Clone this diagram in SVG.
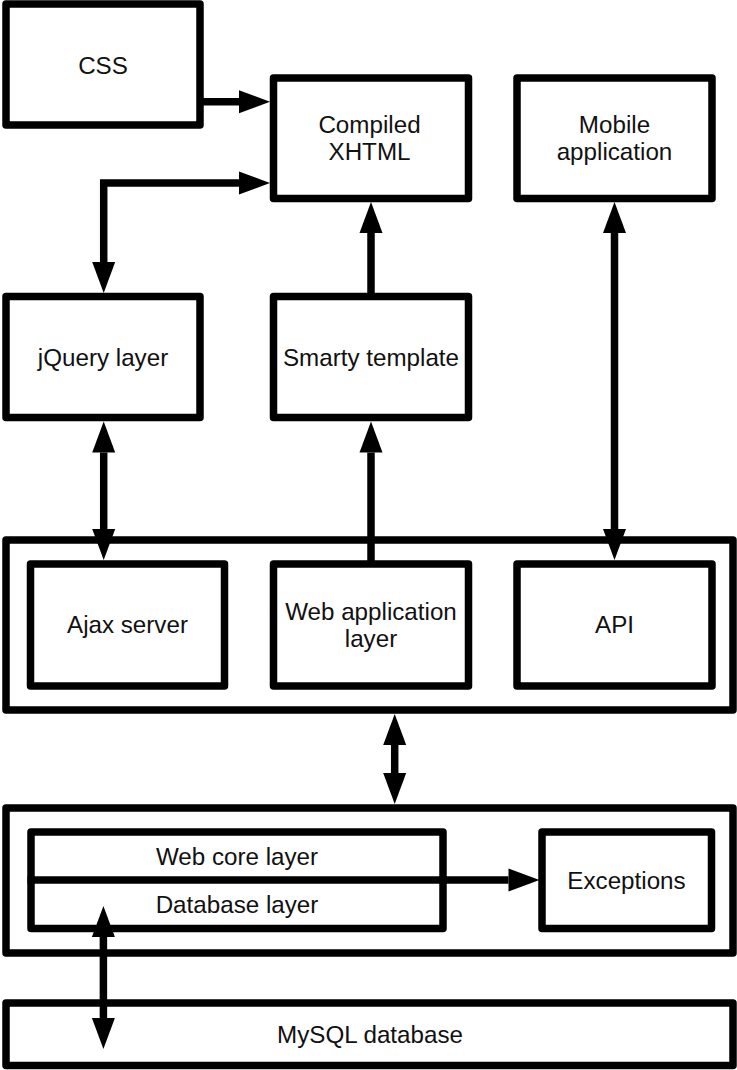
<svg xmlns="http://www.w3.org/2000/svg" width="737" height="1070" viewBox="0 0 737 1070">
<style>
.box{fill:#fff;stroke:#000;stroke-width:7.5;stroke-linejoin:round}
.frame{fill:none;stroke:#000;stroke-width:7.5;stroke-linejoin:round}
.ln{fill:none;stroke:#000;stroke-width:7.5;stroke-linejoin:miter}
.t{font-family:"Liberation Sans",Arial,sans-serif;font-size:24.2px;fill:#111;text-anchor:middle}
</style>
<defs>
<marker id="ah" markerUnits="userSpaceOnUse" markerWidth="32" markerHeight="24" viewBox="0 -12 32 24" refX="0" refY="0" orient="auto-start-reverse" overflow="visible">
<path d="M0,-11.5 L31,0 L0,11.5 Z" fill="#000"/>
</marker>
</defs>
<rect width="737" height="1070" fill="#fff"/>

<g id="app-container"><rect class="frame" x="6" y="540" width="727" height="170"/></g>
<g id="core-container"><rect class="frame" x="6" y="808" width="727" height="145"/></g>

<g id="css"><rect class="box" x="6" y="4" width="194" height="121"/><text class="t" x="103" y="73.5">CSS</text></g>
<g id="xhtml"><rect class="box" x="273.5" y="78" width="195" height="120.5"/><text class="t" x="369.5" y="132.7">Compiled</text><text class="t" x="369.5" y="160">XHTML</text></g>
<g id="mobile"><rect class="box" x="517" y="78" width="195" height="120.5"/><text class="t" x="614.5" y="133.3">Mobile</text><text class="t" x="614.5" y="159.5">application</text></g>
<g id="jquery"><rect class="box" x="6" y="296.5" width="194" height="121"/><text class="t" x="103" y="366">jQuery layer</text></g>
<g id="smarty"><rect class="box" x="273.5" y="296.5" width="195" height="121"/><text class="t" x="371" y="366">Smarty template</text></g>
<g id="ajax"><rect class="box" x="30.5" y="564" width="194" height="122"/><text class="t" x="127.5" y="633.4">Ajax server</text></g>
<g id="webapp"><rect class="box" x="273.5" y="564" width="195" height="122"/><text class="t" x="371" y="620">Web application</text><text class="t" x="371" y="646.5">layer</text></g>
<g id="api"><rect class="box" x="517" y="564" width="195" height="122"/><text class="t" x="614.5" y="633.4">API</text></g>
<g id="webcore-db"><rect class="box" x="31" y="832" width="412" height="96.5"/><line class="ln" x1="27.5" y1="880" x2="443" y2="880"/><text class="t" x="237" y="865">Web core layer</text><text class="t" x="237" y="912.5">Database layer</text></g>
<g id="exceptions"><rect class="box" x="542" y="832" width="169.5" height="96.5"/><text class="t" x="626.5" y="888.5">Exceptions</text></g>
<g id="mysql"><rect class="box" x="6" y="1003" width="727" height="62.5"/><text class="t" x="370" y="1042.7">MySQL database</text></g>

<g id="connectors">
<line class="ln" x1="200" y1="101.7" x2="239" y2="101.7" marker-end="url(#ah)"/>
<path class="ln" d="M239,183 H103.7 V262" marker-start="url(#ah)" marker-end="url(#ah)"/>
<line class="ln" x1="371" y1="296.5" x2="371" y2="233" marker-end="url(#ah)"/>
<line class="ln" x1="614.5" y1="233" x2="614.5" y2="529" marker-start="url(#ah)" marker-end="url(#ah)"/>
<line class="ln" x1="103.7" y1="452.5" x2="103.7" y2="529" marker-start="url(#ah)" marker-end="url(#ah)"/>
<line class="ln" x1="371" y1="564" x2="371" y2="452.5" marker-end="url(#ah)"/>
<line class="ln" x1="394.7" y1="745" x2="394.7" y2="773" marker-start="url(#ah)" marker-end="url(#ah)"/>
<line class="ln" x1="443" y1="880" x2="508.5" y2="880" marker-end="url(#ah)"/>
<line class="ln" x1="103.4" y1="937" x2="103.4" y2="1018" marker-start="url(#ah)" marker-end="url(#ah)"/>
</g>
</svg>
